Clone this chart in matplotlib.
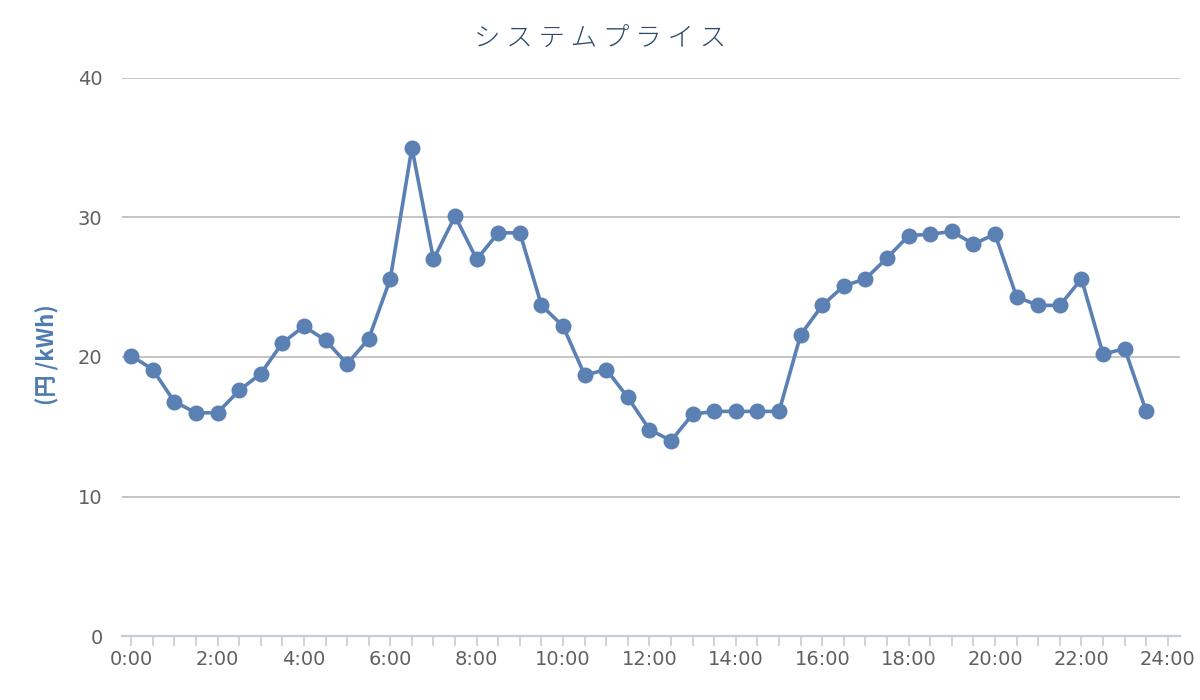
import matplotlib
matplotlib.use("Agg")
import matplotlib.pyplot as plt
from matplotlib.ticker import MultipleLocator

# 30-minute system price (yen/kWh), 0:00 .. 23:30
hours = [i * 0.5 for i in range(48)]
price = [20.1, 19.1, 16.8, 16.0, 16.0, 17.6, 18.8, 21.0,
         22.2, 21.2, 19.5, 21.3, 25.6, 35.0, 27.0, 30.1,
         27.0, 28.9, 28.9, 23.7, 22.2, 18.7, 19.1, 17.1,
         14.8, 14.0, 15.9, 16.1, 16.1, 16.1, 16.1, 21.6,
         23.7, 25.1, 25.6, 27.1, 28.7, 28.8, 29.0, 28.1,
         28.8, 24.3, 23.7, 23.7, 25.6, 20.2, 20.6, 16.1]
xticks = list(range(0, 25, 2))
xlabels = [f"{h}:00" for h in xticks]
yticks = [0, 10, 20, 30, 40]

line_col = "#5b80b4"
txt_col = "#606060"
jp = ["Noto Sans CJK JP", "DejaVu Sans"]

fig = plt.figure(figsize=(12, 7), dpi=100)
ax = fig.add_axes([0.1017, 0.0914, 0.8816, 0.7972])

ax.plot(hours, price, color=line_col, lw=2.6, marker="o", ms=11.5,
        markeredgewidth=0, zorder=3, clip_on=False)

ax.set_xlim(-0.21, 24.28)
ax.set_ylim(0, 40)
ax.set_xticks(xticks)
ax.set_xticklabels(xlabels)
ax.xaxis.set_minor_locator(MultipleLocator(0.5))
ax.set_yticks(yticks)

for s in ["left", "right", "top"]:
    ax.spines[s].set_visible(False)
ax.spines["bottom"].set_color("#c3cddb")
ax.spines["bottom"].set_linewidth(1.6)

ax.tick_params(axis="x", which="both", length=7, width=1.2, color="#c3cddb",
               labelsize=14, labelcolor=txt_col, pad=3)
ax.tick_params(axis="y", length=0, labelsize=14, labelcolor=txt_col, pad=14)

for v in yticks[1:]:
    ax.axhline(v, color="#bfbfbf", lw=1.3, zorder=1)

# axis title
fig.text(0.04, 0.493, "(円 /kWh)", rotation=90, ha="center", va="center",
         fontsize=16, fontweight="bold", color="#4f7bb0", family=jp)

fig.text(0.5, 0.945, "シ ス テ ム プ ラ イ ス", ha="center", va="center",
         fontsize=19, color="#2d4a6a", family=jp, fontweight="light")

fig.savefig("out.png", dpi=100, facecolor="white")
